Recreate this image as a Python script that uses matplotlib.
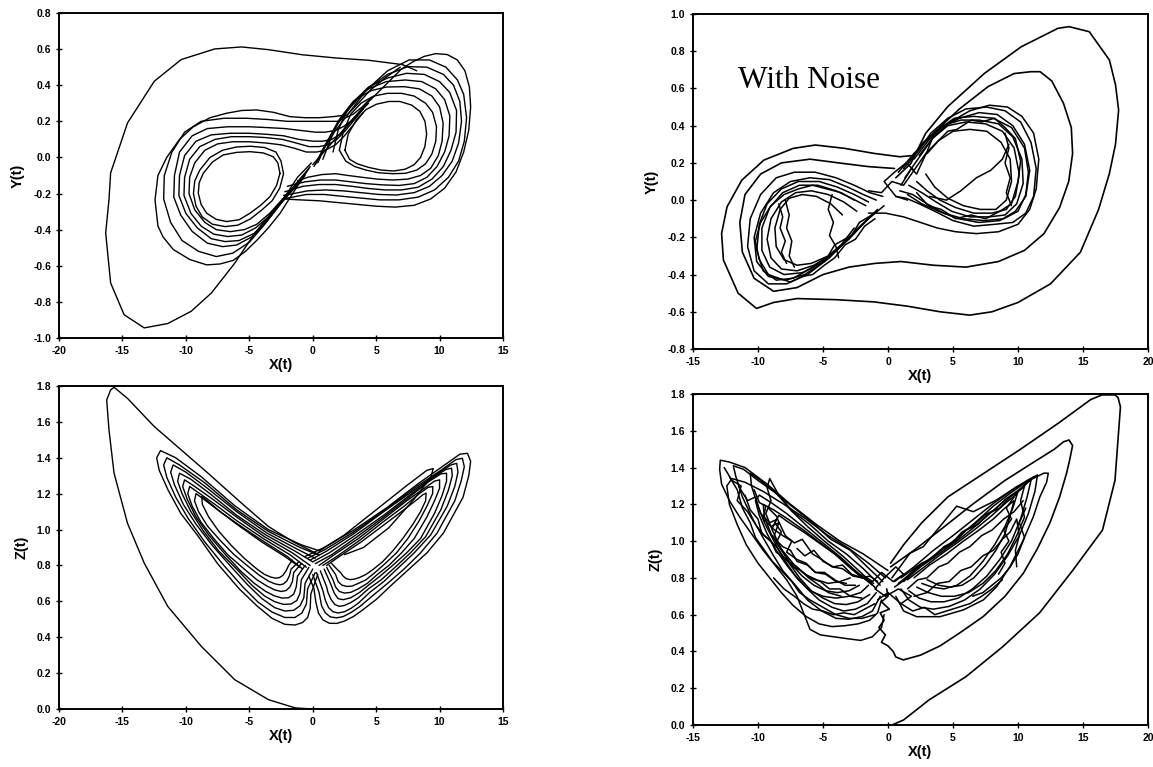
import matplotlib
matplotlib.use("Agg")
import matplotlib.pyplot as plt

# ---------------- top left: X(t) vs Y(t), clean run ----------------
tl_start_x = [-0.1, -1.2, -2.17, -4.55, -6.14, -7.99, -9.58, -11.43, -13.28, -14.87, -15.93, -16.32,
              -16.06, -15.93, -14.60, -12.49, -10.37, -7.72, -5.61, -3.49, -0.85, 1.80, 4.44, 7.09, 8.2]
tl_start_y = [-0.03, -0.11, -0.215, -0.418, -0.585, -0.751, -0.852, -0.920, -0.944, -0.871, -0.695, -0.418,
              -0.234, -0.086, 0.191, 0.422, 0.542, 0.601, 0.612, 0.597, 0.569, 0.551, 0.538, 0.514, 0.48]

tl_right_x = [
    [2.54, 2.8, 3.46, 4.2, 5.03, 6.0, 6.87, 7.8, 8.45, 8.85, 8.98, 8.84, 8.5, 8.0, 7.3, 6.4, 5.4, 4.4,
     3.5, 2.9, 2.54],
    [2.1, 2.4, 3.0, 3.8, 4.8, 5.9, 7.0, 8.0, 8.9, 9.45, 9.76, 9.7, 9.4, 8.9, 8.2, 7.3, 6.3, 5.2, 4.2,
     3.3, 2.6, 2.1],
    [1.6, 2.0, 2.7, 3.6, 4.6, 5.8, 7.2, 8.4, 9.4, 10.0, 10.28, 10.2, 9.9, 9.3, 8.5, 7.5, 6.3, 5.1, 3.9,
     2.8, 1.8, 0.7, -0.4, -1.2],
    [0.8, 1.4, 2.2, 3.2, 4.4, 5.8, 7.3, 8.6, 9.7, 10.4, 10.81, 10.75, 10.4, 9.8, 9.0, 8.0, 6.8, 5.5,
     4.2, 3.0, 1.8, 0.6, -0.6, -1.5, -2.0],
    [0.4, 1.1, 2.0, 3.1, 4.4, 5.9, 7.4, 8.8, 10.0, 10.8, 11.34, 11.3, 10.9, 10.3, 9.4, 8.3, 7.0, 5.7,
     4.4, 3.1, 1.8, 0.5, -0.8, -1.7, -2.2],
    [0.2, 0.9, 1.8, 3.0, 4.3, 5.9, 7.5, 9.0, 10.3, 11.1, 11.6, 11.73, 11.5, 11.0, 10.2, 9.2, 8.0, 6.6,
     5.2, 3.8, 2.4, 1.0, -0.4, -1.5, -2.3],
    [0.1, 0.8, 1.7, 2.9, 4.2, 5.9, 7.6, 9.2, 10.5, 11.4, 11.9, 12.13, 11.95, 11.5, 10.7, 9.6, 8.3, 6.8,
     5.3, 3.8, 2.3, 0.9, -0.5, -1.6, -2.4],
    [0.0, 1.0, 2.0, 3.0, 4.0, 5.0, 6.0, 7.0, 7.9, 8.8, 9.7, 10.6, 11.4, 12.0, 12.35, 12.45, 12.3, 11.9,
     11.3, 10.4, 9.3, 8.0, 6.5, 5.0, 3.5, 2.0, 0.5, -1.0, -2.3],
]
tl_right_y = [
    [0.04, 0.13, 0.21, 0.265, 0.295, 0.31, 0.31, 0.29, 0.255, 0.2, 0.13, 0.06, 0.0, -0.04, -0.065,
     -0.075, -0.07, -0.055, -0.035, -0.01, 0.04],
    [0.04, 0.14, 0.24, 0.3, 0.34, 0.355, 0.355, 0.34, 0.3, 0.25, 0.17, 0.09, 0.02, -0.035, -0.07,
     -0.088, -0.09, -0.085, -0.07, -0.05, -0.02, 0.04],
    [0.03, 0.15, 0.26, 0.33, 0.37, 0.39, 0.392, 0.38, 0.34, 0.28, 0.19, 0.09, 0.01, -0.06, -0.1, -0.12,
     -0.125, -0.12, -0.11, -0.1, -0.09, -0.095, -0.11, -0.13],
    [-0.01, 0.1, 0.22, 0.31, 0.38, 0.42, 0.429, 0.42, 0.38, 0.32, 0.23, 0.12, 0.03, -0.05, -0.11, -0.145,
     -0.155, -0.152, -0.145, -0.135, -0.125, -0.125, -0.135, -0.15, -0.16],
    [-0.03, 0.08, 0.2, 0.3, 0.39, 0.44, 0.466, 0.46, 0.42, 0.36, 0.26, 0.14, 0.04, -0.05, -0.12, -0.165,
     -0.18, -0.18, -0.172, -0.16, -0.15, -0.15, -0.16, -0.18, -0.19],
    [-0.04, 0.06, 0.17, 0.28, 0.38, 0.46, 0.503, 0.5, 0.46, 0.4, 0.31, 0.2, 0.08, -0.02, -0.1, -0.16,
     -0.195, -0.208, -0.205, -0.195, -0.185, -0.18, -0.185, -0.2, -0.21],
    [-0.05, 0.04, 0.14, 0.25, 0.37, 0.48, 0.54, 0.54, 0.5, 0.43, 0.35, 0.22, 0.09, -0.02, -0.11, -0.18,
     -0.22, -0.235, -0.235, -0.225, -0.215, -0.205, -0.205, -0.22, -0.23],
    [-0.04, 0.04, 0.12, 0.2, 0.28, 0.35, 0.42, 0.49, 0.53, 0.56, 0.575, 0.57, 0.54, 0.48, 0.39, 0.28,
     0.15, 0.03, -0.08, -0.17, -0.23, -0.265, -0.275, -0.27, -0.26, -0.25, -0.24, -0.235, -0.23],
]

tl_left_x = [
    [-2.58, -2.75, -3.11, -3.9, -4.95, -6.0, -7.05, -7.9, -8.63, -8.95, -9.02, -8.8, -8.36, -7.6, -6.78,
     -5.8, -4.95, -4.1, -3.37, -2.85, -2.58],
    [-2.3, -2.5, -2.9, -3.8, -4.9, -6.0, -7.1, -8.1, -8.9, -9.3, -9.4, -9.2, -8.7, -7.9, -6.9, -5.9,
     -4.9, -4.0, -3.2, -2.6, -2.3],
    [-1.0, -1.8, -2.5, -3.4, -4.4, -5.4, -6.5, -7.6, -8.5, -9.3, -9.75, -9.7, -9.3, -8.5, -7.5, -6.3,
     -5.0, -3.7, -2.5, -1.4, -0.5, 0.3, 1.0, 1.8, 2.5, 3.2, 4.0],
    [-0.8, -1.7, -2.6, -3.5, -4.5, -5.6, -6.7, -7.8, -8.8, -9.6, -10.15, -10.1, -9.7, -8.9, -7.7, -6.4,
     -5.0, -3.7, -2.4, -1.3, -0.3, 0.5, 1.2, 1.9, 2.6, 3.3, 4.0],
    [-0.6, -1.6, -2.7, -3.6, -4.6, -5.8, -6.9, -8.0, -9.1, -10.0, -10.55, -10.5, -10.1, -9.2, -8.0, -6.5,
     -5.0, -3.6, -2.3, -1.1, 0.0, 0.8, 1.5, 2.2, 2.8, 3.5, 4.2],
    [-0.5, -1.6, -2.8, -3.8, -4.8, -6.0, -7.1, -8.3, -9.5, -10.4, -10.95, -10.9, -10.5, -9.5, -8.3, -6.7,
     -5.0, -3.5, -2.2, -1.0, 0.2, 1.0, 1.8, 2.4, 3.0, 3.7, 4.4],
    [-0.3, -1.6, -2.9, -3.9, -5.0, -6.3, -7.6, -9.0, -10.3, -11.2, -11.75, -11.7, -11.1, -10.1, -8.8,
     -7.0, -5.2, -3.5, -2.0, -0.7, 0.5, 1.3, 2.0, 2.6, 3.2, 3.9, 4.6],
    [-0.2, -1.4, -2.58, -3.5, -4.42, -5.3, -6.26, -7.3, -8.36, -9.7, -10.99, -11.8, -12.2, -12.43,
     -12.2, -11.51, -10.5, -9.41, -8.1, -6.78, -5.6, -4.42, -3.1, -1.8, -0.6, 0.5, 1.6, 2.7, 3.6, 4.5,
     5.7, 6.9],
]
tl_left_y = [
    [-0.088, -0.03, 0.004, 0.025, 0.032, 0.028, 0.014, -0.025, -0.088, -0.14, -0.198, -0.26, -0.309,
     -0.343, -0.355, -0.345, -0.309, -0.265, -0.217, -0.155, -0.088],
    [-0.09, -0.02, 0.03, 0.055, 0.062, 0.058, 0.04, 0.0, -0.07, -0.13, -0.2, -0.27, -0.33, -0.37,
     -0.383, -0.375, -0.34, -0.29, -0.24, -0.17, -0.09],
    [-0.14, -0.19, -0.24, -0.31, -0.37, -0.40, -0.411, -0.4, -0.36, -0.29, -0.2, -0.11, -0.03, 0.04,
     0.075, 0.087, 0.087, 0.08, 0.07, 0.05, 0.03, 0.03, 0.04, 0.07, 0.12, 0.18, 0.25],
    [-0.12, -0.19, -0.26, -0.33, -0.39, -0.43, -0.438, -0.425, -0.38, -0.31, -0.21, -0.11, -0.01, 0.06,
     0.1, 0.115, 0.115, 0.11, 0.1, 0.08, 0.06, 0.06, 0.07, 0.1, 0.15, 0.21, 0.27],
    [-0.1, -0.18, -0.27, -0.35, -0.42, -0.46, -0.466, -0.45, -0.39, -0.31, -0.21, -0.1, 0.01, 0.09,
     0.125, 0.134, 0.134, 0.128, 0.12, 0.1, 0.09, 0.09, 0.1, 0.13, 0.18, 0.23, 0.29],
    [-0.08, -0.17, -0.28, -0.37, -0.44, -0.485, -0.494, -0.475, -0.41, -0.32, -0.22, -0.1, 0.03, 0.12,
     0.16, 0.17, 0.17, 0.165, 0.16, 0.15, 0.14, 0.14, 0.15, 0.17, 0.2, 0.25, 0.3],
    [-0.06, -0.17, -0.29, -0.38, -0.47, -0.53, -0.549, -0.52, -0.46, -0.36, -0.23, -0.1, 0.03, 0.14,
     0.2, 0.217, 0.217, 0.21, 0.2, 0.2, 0.2, 0.2, 0.2, 0.22, 0.24, 0.28, 0.33],
    [-0.05, -0.18, -0.31, -0.39, -0.46, -0.52, -0.57, -0.59, -0.595, -0.565, -0.51, -0.44, -0.38,
     -0.235, -0.1, 0.0, 0.1, 0.17, 0.22, 0.245, 0.26, 0.263, 0.25, 0.226, 0.22, 0.22, 0.226, 0.235,
     0.3, 0.37, 0.44, 0.5],
]

# ---------------- bottom left: X(t) vs Z(t), clean run ----------------
bl_start_x = [0.0, -1.38, -3.49, -6.14, -8.78, -11.43, -13.28, -14.60, -15.66, -16.06, -16.24, -15.93,
              -15.66, -14.60, -12.49, -10.37, -8.25, -5.61, -3.49, -1.5, 0.5]
bl_start_y = [0.0, 0.006, 0.052, 0.163, 0.349, 0.572, 0.813, 1.035, 1.314, 1.555, 1.722, 1.778,
              1.793, 1.731, 1.574, 1.444, 1.314, 1.147, 1.017, 0.93, 0.86]

bl_left_x = [
    [-1.0, -2.2, -4.0, -5.8, -7.3, -8.3, -8.75, -8.7, -8.2, -7.4, -6.4, -5.4, -4.4, -3.8, -3.3, -2.9,
     -2.6, -2.35, -2.1, -1.9, -1.6],
    [-0.8, -2.0, -4.0, -5.9, -7.5, -8.6, -9.2, -9.32, -9.0, -8.3, -7.3, -6.2, -5.0, -4.2, -3.5, -3.0,
     -2.6, -2.3, -2.05, -1.85, -1.7, -1.1],
    [-0.5, -1.8, -3.9, -6.0, -7.7, -8.9, -9.7, -9.85, -9.5, -8.8, -7.8, -6.7, -5.4, -4.4, -3.6, -3.0,
     -2.5, -2.1, -1.8, -1.6, -1.5, -0.9],
    [-0.2, -1.6, -3.8, -6.0, -7.9, -9.3, -10.1, -10.25, -9.9, -9.2, -8.2, -7.0, -5.7, -4.6, -3.7, -3.0,
     -2.4, -1.9, -1.5, -1.3, -1.2, -0.6],
    [0.0, -1.4, -3.7, -6.0, -8.1, -9.6, -10.5, -10.65, -10.3, -9.6, -8.6, -7.4, -6.0, -4.8, -3.8, -3.0,
     -2.3, -1.7, -1.25, -1.0, -0.9, -0.3],
    [0.2, -1.2, -3.6, -6.0, -8.3, -10.0, -11.0, -11.2, -10.9, -10.2, -9.2, -7.9, -6.4, -5.1, -4.0, -3.0,
     -2.2, -1.5, -1.0, -0.7, -0.6, 0.0],
    [0.4, -1.0, -3.5, -6.0, -8.5, -10.5, -11.5, -11.75, -11.5, -10.8, -9.8, -8.5, -7.0, -5.5, -4.3, -3.2,
     -2.2, -1.4, -0.85, -0.5, -0.4, 0.2],
    [0.6, -0.9, -3.5, -6.1, -8.8, -10.8, -12.0, -12.3, -12.1, -11.4, -10.4, -9.0, -7.5, -5.8, -4.4, -3.2,
     -2.2, -1.4, -0.8, -0.4, -0.2, -0.15, 0.4],
]
bl_left_y = [
    [0.79, 0.85, 0.93, 1.02, 1.10, 1.16, 1.184, 1.14, 1.07, 0.99, 0.91, 0.84, 0.78, 0.75, 0.735, 0.729,
     0.733, 0.745, 0.77, 0.80, 0.83],
    [0.78, 0.85, 0.94, 1.03, 1.11, 1.17, 1.20, 1.16, 1.10, 1.02, 0.94, 0.86, 0.79, 0.745, 0.713, 0.698,
     0.692, 0.697, 0.713, 0.74, 0.78, 0.82],
    [0.79, 0.86, 0.95, 1.05, 1.14, 1.20, 1.24, 1.20, 1.13, 1.04, 0.95, 0.86, 0.78, 0.72, 0.685, 0.664,
     0.655, 0.66, 0.68, 0.71, 0.76, 0.81],
    [0.80, 0.87, 0.96, 1.07, 1.17, 1.24, 1.277, 1.24, 1.17, 1.07, 0.97, 0.87, 0.77, 0.70, 0.655, 0.63,
     0.618, 0.62, 0.64, 0.68, 0.74, 0.80],
    [0.82, 0.88, 0.97, 1.08, 1.20, 1.28, 1.314, 1.27, 1.20, 1.10, 0.99, 0.88, 0.78, 0.69, 0.63, 0.598,
     0.583, 0.585, 0.605, 0.645, 0.72, 0.79],
    [0.84, 0.89, 0.98, 1.10, 1.23, 1.32, 1.36, 1.32, 1.25, 1.14, 1.03, 0.91, 0.79, 0.69, 0.615, 0.565,
     0.546, 0.55, 0.575, 0.62, 0.70, 0.78],
    [0.86, 0.9, 0.99, 1.11, 1.26, 1.36, 1.40, 1.36, 1.29, 1.18, 1.06, 0.93, 0.80, 0.68, 0.595, 0.54,
     0.51, 0.51, 0.535, 0.585, 0.67, 0.76],
    [0.88, 0.915, 1.0, 1.13, 1.295, 1.40, 1.44, 1.40, 1.33, 1.22, 1.09, 0.96, 0.81, 0.67, 0.575, 0.505,
     0.472, 0.468, 0.482, 0.51, 0.56, 0.64, 0.75],
]

bl_right_x = [
    [1.1, 2.1, 3.8, 5.5, 7.0, 8.1, 8.7, 8.94, 8.9, 8.5, 7.9, 7.1, 6.3, 5.5, 4.8, 4.2, 3.7, 3.3, 2.95,
     2.65, 2.4, 2.2, 1.9, 1.5],
    [0.8, 1.9, 3.7, 5.5, 7.2, 8.4, 9.1, 9.47, 9.45, 9.0, 8.4, 7.5, 6.6, 5.7, 4.9, 4.2, 3.6, 3.1, 2.7,
     2.3, 2.0, 1.8, 1.3],
    [0.5, 1.7, 3.6, 5.6, 7.4, 8.8, 9.6, 10.0, 10.0, 9.6, 9.0, 8.0, 7.0, 6.0, 5.1, 4.3, 3.6, 3.0, 2.5,
     2.1, 1.8, 1.6, 1.1],
    [0.2, 1.5, 3.5, 5.6, 7.6, 9.2, 10.1, 10.55, 10.55, 10.2, 9.6, 8.5, 7.4, 6.3, 5.3, 4.4, 3.7, 3.0,
     2.4, 2.0, 1.7, 1.4, 0.9],
    [0.0, 1.3, 3.4, 5.6, 7.8, 9.5, 10.5, 10.95, 11.0, 10.7, 10.1, 8.9, 7.7, 6.5, 5.4, 4.4, 3.6, 3.0,
     2.5, 2.1, 1.75, 1.45, 1.2, 1.1, 0.6],
    [-0.2, 1.1, 3.3, 5.6, 8.0, 9.8, 10.9, 11.35, 11.45, 11.2, 10.6, 9.3, 8.0, 6.8, 5.6, 4.5, 3.6, 3.0,
     2.5, 2.0, 1.6, 1.25, 1.0, 0.8, 0.3],
    [-0.4, 1.0, 3.3, 5.7, 8.2, 10.1, 11.3, 11.8, 11.95, 11.7, 11.2, 9.8, 8.5, 7.2, 5.9, 4.7, 3.7, 3.0,
     2.4, 1.9, 1.4, 1.0, 0.7, 0.5, 0.0],
    [-0.6, 0.9, 3.3, 5.8, 8.4, 10.4, 11.6, 12.2, 12.45, 12.3, 11.85, 10.3, 9.0, 7.6, 6.2, 5.0, 3.9, 3.2,
     2.5, 1.9, 1.3, 0.8, 0.45, 0.25, 0.1, -0.3],
    [0.5, 2.5, 5.0, 7.5, 9.0, 9.5, 9.3, 8.0, 6.0, 4.0, 2.5],
]
bl_right_y = [
    [0.80, 0.85, 0.93, 1.02, 1.10, 1.16, 1.195, 1.203, 1.16, 1.10, 1.03, 0.95, 0.88, 0.82, 0.78, 0.75,
     0.733, 0.724, 0.721, 0.726, 0.74, 0.76, 0.78, 0.81],
    [0.80, 0.85, 0.94, 1.04, 1.13, 1.20, 1.235, 1.24, 1.20, 1.13, 1.05, 0.95, 0.87, 0.81, 0.76, 0.72,
     0.70, 0.685, 0.683, 0.69, 0.71, 0.75, 0.80],
    [0.80, 0.86, 0.95, 1.06, 1.16, 1.23, 1.27, 1.277, 1.23, 1.16, 1.07, 0.95, 0.87, 0.80, 0.75, 0.70,
     0.67, 0.65, 0.646, 0.655, 0.68, 0.72, 0.79],
    [0.81, 0.86, 0.96, 1.07, 1.18, 1.27, 1.31, 1.314, 1.27, 1.19, 1.09, 0.95, 0.87, 0.80, 0.74, 0.69,
     0.65, 0.62, 0.609, 0.615, 0.645, 0.70, 0.78],
    [0.82, 0.87, 0.97, 1.08, 1.20, 1.29, 1.335, 1.342, 1.30, 1.22, 1.11, 0.96, 0.87, 0.79, 0.72, 0.67,
     0.62, 0.593, 0.577, 0.572, 0.582, 0.61, 0.65, 0.68, 0.77],
    [0.83, 0.88, 0.98, 1.10, 1.22, 1.31, 1.36, 1.369, 1.32, 1.24, 1.13, 0.97, 0.87, 0.79, 0.71, 0.65,
     0.59, 0.56, 0.542, 0.535, 0.542, 0.565, 0.605, 0.66, 0.76],
    [0.84, 0.89, 0.99, 1.11, 1.24, 1.33, 1.39, 1.397, 1.35, 1.27, 1.16, 0.98, 0.87, 0.78, 0.70, 0.63,
     0.57, 0.537, 0.515, 0.508, 0.513, 0.535, 0.575, 0.65, 0.75],
    [0.85, 0.90, 1.0, 1.12, 1.26, 1.36, 1.42, 1.425, 1.38, 1.30, 1.18, 0.98, 0.87, 0.78, 0.69, 0.61,
     0.55, 0.515, 0.49, 0.477, 0.478, 0.497, 0.535, 0.595, 0.67, 0.74],
    [0.88, 0.97, 1.11, 1.25, 1.33, 1.34, 1.29, 1.17, 1.01, 0.90, 0.86],
]

# ---------------- top right: X(t) vs Y(t), noisy run ----------------
tr_outer_x = [0.6, 1.76, 2.89, 4.59, 7.42, 10.25, 13.07, 13.92, 15.48, 17.03, 17.5, 17.74, 17.5, 17.03, 16.2,
              14.8, 12.5, 10.0, 8.0, 6.29, 4.0, 1.5, -1.07, -4.0, -7.0, -8.8, -10.12, -11.53, -12.66, -12.8,
              -12.38, -11.25, -9.55, -7.29, -5.59, -3.33, -1.07, 0.91, 2.0]
tr_outer_y = [0.12, 0.197, 0.358, 0.502, 0.681, 0.824, 0.923, 0.932, 0.905, 0.753, 0.62, 0.484, 0.30, 0.143,
              -0.05, -0.28, -0.45, -0.55, -0.60, -0.618, -0.60, -0.57, -0.547, -0.535, -0.529, -0.55, -0.582,
              -0.50, -0.322, -0.179, -0.036, 0.107, 0.215, 0.278, 0.296, 0.278, 0.251, 0.233, 0.24]

tr_second_x = [0.8, 2.0, 3.5, 5.5, 7.7, 9.7, 11.0, 11.7, 12.6, 13.5, 14.1, 14.2, 13.9, 13.2, 12.0, 10.5,
               8.5, 6.0, 3.5, 1.0, -1.0, -3.0, -5.0, -7.0, -8.8, -10.3, -11.2, -11.4, -11.0, -9.8, -8.2,
               -6.0, -3.8, -1.5, 0.5]
tr_second_y = [0.15, 0.25, 0.36, 0.49, 0.61, 0.68, 0.69, 0.69, 0.64, 0.52, 0.39, 0.25, 0.10, -0.04, -0.18,
               -0.27, -0.33, -0.36, -0.35, -0.33, -0.34, -0.36, -0.40, -0.47, -0.49, -0.42, -0.28, -0.12,
               0.03, 0.14, 0.20, 0.22, 0.20, 0.18, 0.17]

tr_right_x = [
    [1.2, 2.4, 3.3, 4.6, 6.0, 7.6, 9.0, 10.2, 11.0, 11.4, 11.2, 10.6, 9.6, 8.2, 6.6, 5.0, 3.6, 2.4, 1.4, 0.6],
    [1.6, 2.7, 3.9, 5.1, 6.6, 8.1, 9.5, 10.5, 10.8, 10.6, 10.0, 8.9, 7.4, 5.8, 4.3, 3.0, 1.9, 0.9],
    [2.0, 3.1, 4.2, 5.6, 7.0, 8.5, 9.6, 10.3, 10.4, 9.9, 9.0, 7.8, 6.3, 4.9, 3.7, 2.6, 1.6],
    [2.4, 3.4, 4.6, 6.0, 7.5, 8.8, 9.7, 10.1, 9.8, 9.1, 8.0, 6.6, 5.2, 4.0, 3.0, 2.2],
    [3.0, 3.9, 5.0, 6.3, 7.6, 8.7, 9.4, 9.5, 9.1, 8.3, 7.1, 5.8, 4.6, 3.6, 2.9],
    [1.3, 2.5, 3.5, 4.8, 6.3, 7.8, 9.2, 10.3, 11.2, 11.6, 11.4, 10.9, 10.0, 8.5, 6.8, 5.2, 3.8, 2.5,
     1.2, -0.2, -1.5],
    [3.2, 4.5, 5.6, 6.8, 7.9, 8.8, 9.3],
    [1.0, 1.8, 2.2, 3.0, 3.4, 4.4, 5.5, 7.0, 8.4, 9.6, 10.5, 10.9, 10.6, 9.8, 8.6, 7.0, 5.4, 3.9, 2.6, 1.5],
    [2.0, 2.9, 3.6, 4.6, 5.3, 6.4, 7.2, 8.2, 9.0, 9.8, 10.2, 10.0, 9.5, 8.6, 7.5, 6.4, 5.2, 4.1, 3.1, 2.2],
    [9.0, 9.3, 9.0, 9.4, 9.1, 9.5],
]
tr_right_y = [
    [0.17, 0.27, 0.36, 0.44, 0.49, 0.50, 0.48, 0.42, 0.31, 0.17, 0.02, -0.07, -0.12, -0.13, -0.14, -0.11,
     -0.06, -0.02, 0.01, 0.02],
    [0.20, 0.31, 0.38, 0.44, 0.45, 0.44, 0.39, 0.28, 0.15, 0.03, -0.06, -0.10, -0.11, -0.10, -0.07, -0.02, 0.03, 0.05],
    [0.22, 0.32, 0.40, 0.43, 0.43, 0.41, 0.34, 0.22, 0.09, -0.02, -0.08, -0.09, -0.09, -0.06, -0.01, 0.04, 0.08],
    [0.24, 0.33, 0.40, 0.42, 0.41, 0.37, 0.28, 0.14, 0.02, -0.05, -0.07, -0.07, -0.04, 0.00, 0.05, 0.10],
    [0.25, 0.32, 0.37, 0.38, 0.37, 0.31, 0.22, 0.10, 0.00, -0.05, -0.05, -0.03, 0.01, 0.07, 0.14],
    [0.12, 0.24, 0.34, 0.42, 0.48, 0.51, 0.50, 0.45, 0.36, 0.22, 0.06, -0.05, -0.13, -0.17, -0.18, -0.17,
     -0.15, -0.12, -0.09, -0.07, -0.07],
    [0.02, 0.0, 0.05, 0.12, 0.16, 0.22, 0.30],
    [0.08, 0.17, 0.14, 0.26, 0.33, 0.40, 0.44, 0.47, 0.46, 0.40, 0.30, 0.16, 0.02, -0.06, -0.11, -0.12,
     -0.10, -0.06, -0.02, 0.03],
    [0.16, 0.25, 0.30, 0.37, 0.38, 0.43, 0.42, 0.44, 0.39, 0.33, 0.21, 0.10, -0.02, -0.06, -0.10, -0.08,
     -0.10, -0.05, -0.03, 0.04],
    [0.36, 0.28, 0.20, 0.12, 0.04, -0.03],
]

tr_left_x = [
    [-0.3, -1.5, -3.0, -4.5, -6.2, -7.8, -9.2, -10.3, -10.8, -10.6, -9.8, -8.6, -7.2, -5.6, -4.0, -2.6, -1.4, -0.4],
    [-0.8, -2.0, -3.4, -4.9, -6.4, -7.9, -9.2, -10.1, -10.3, -9.8, -8.8, -7.5, -6.0, -4.5, -3.1, -1.9, -0.9],
    [-1.2, -2.4, -3.8, -5.2, -6.6, -8.0, -9.1, -9.7, -9.7, -9.1, -8.1, -6.8, -5.4, -4.0, -2.8, -1.7],
    [-1.8, -3.0, -4.3, -5.7, -7.0, -8.2, -9.0, -9.3, -9.0, -8.2, -7.1, -5.9, -4.6, -3.4, -2.4],
    [-2.6, -3.6, -4.6, -5.9, -7.0, -8.0, -8.6, -8.7, -8.3, -7.6, -6.6, -5.5, -4.4, -3.5],
    [-7.9, -7.6, -7.8, -7.4, -7.6, -7.2],
    [-1.0, -2.2, -2.8, -4.1, -4.6, -6.0, -7.3, -8.6, -9.6, -10.1, -9.9, -9.3, -8.2, -6.9, -5.3, -3.9, -2.6, -1.5],
    [-8.4, -8.1, -8.3, -7.9, -8.2, -7.8],
    [-4.3, -4.6, -4.2, -4.5, -4.0, -3.8],
    [-1.0, -1.8, -2.5, -3.3, -4.1, -4.9, -5.8, -6.6, -7.5, -8.4, -9.2, -9.9, -10.2, -9.8, -9.0, -8.0, -6.9,
     -5.8, -4.7, -3.6, -2.6],
    [-1.5, -0.5, 0.3, 1.2, 2.0, 1.4, 0.5, -0.3, 0.6, 1.5],
]
tr_left_y = [
    [-0.03, -0.10, -0.20, -0.31, -0.40, -0.45, -0.45, -0.38, -0.25, -0.10, 0.03, 0.12, 0.15, 0.15, 0.12, 0.08, 0.04, 0.02],
    [-0.05, -0.13, -0.23, -0.33, -0.40, -0.43, -0.41, -0.33, -0.20, -0.07, 0.04, 0.10, 0.12, 0.11, 0.07, 0.03, 0.0],
    [-0.08, -0.16, -0.26, -0.34, -0.39, -0.40, -0.36, -0.27, -0.15, -0.04, 0.04, 0.08, 0.08, 0.05, 0.01, -0.03],
    [-0.12, -0.21, -0.29, -0.35, -0.38, -0.37, -0.31, -0.21, -0.10, -0.01, 0.04, 0.05, 0.03, -0.01, -0.06],
    [-0.15, -0.24, -0.30, -0.34, -0.35, -0.32, -0.25, -0.15, -0.05, 0.01, 0.03, 0.02, -0.02, -0.08],
    [0.0, -0.08, -0.15, -0.22, -0.30, -0.36],
    [-0.07, -0.12, -0.19, -0.24, -0.30, -0.37, -0.42, -0.43, -0.38, -0.27, -0.13, -0.02, 0.06, 0.10, 0.10,
     0.07, 0.03, -0.01],
    [-0.02, -0.09, -0.15, -0.22, -0.28, -0.34],
    [0.03, -0.05, -0.12, -0.19, -0.25, -0.31],
    [-0.10, -0.14, -0.21, -0.24, -0.31, -0.35, -0.40, -0.41, -0.44, -0.42, -0.40, -0.32, -0.22, -0.12, -0.03,
     0.03, 0.06, 0.08, 0.06, 0.04, 0.0],
    [0.05, 0.04, 0.10, 0.08, 0.16, 0.20, 0.15, 0.10, 0.02, 0.0],
]

# ---------------- bottom right: X(t) vs Z(t), noisy run ----------------
br_start_x = [0.3, 1.19, 3.15, 6.0, 8.83, 11.66, 14.2, 16.5, 17.46, 17.88, 17.7, 17.46, 16.46, 15.6,
              13.08, 10.2, 7.4, 4.6, 2.6, 1.2, 0.2]
br_start_y = [0.0, 0.027, 0.136, 0.263, 0.426, 0.61, 0.84, 1.06, 1.33, 1.73, 1.78, 1.795, 1.795, 1.77,
              1.64, 1.50, 1.37, 1.24, 1.10, 0.98, 0.88]

br_second_x = [0.2, 2.0, 4.0, 6.5, 9.0, 11.0, 12.8, 13.5, 13.92, 14.2, 14.0, 13.74, 13.2, 12.46, 11.5,
               10.41, 9.0, 7.33, 5.5, 4.0, 2.5, 1.18, 0.6, 0.4, 0.0, -0.5, -0.2, -0.7, -0.3, -0.6, 0.1,
               -0.5, 0.0, -0.1]
br_second_y = [0.86, 0.95, 1.06, 1.20, 1.33, 1.42, 1.50, 1.54, 1.55, 1.52, 1.45, 1.37, 1.24, 1.10, 0.96,
               0.825, 0.70, 0.59, 0.50, 0.43, 0.38, 0.354, 0.37, 0.40, 0.43, 0.45, 0.49, 0.53, 0.57, 0.61,
               0.63, 0.67, 0.70, 0.74]

br_left_x = [
    [0.0, -1.9, -3.7, -5.5, -7.5, -9.3, -11.0, -12.2, -12.9, -12.95, -12.8, -12.2, -11.4, -10.5, -9.6,
     -8.7, -7.8, -7.0, -6.5, -6.0, -5.2, -4.2, -3.2, -2.1, -1.2, -0.5, -0.3],
    [-0.2, -1.5, -3.0, -4.6, -6.3, -8.0, -9.6, -11.0, -12.0, -12.4, -12.2, -11.6, -10.9, -10.0, -9.1,
     -8.2, -7.3, -6.3, -5.3, -4.3, -3.3, -2.3, -1.4, -0.8, -0.5],
    [-0.4, -1.6, -2.9, -4.4, -5.8, -7.4, -8.8, -10.0, -11.1, -11.9, -11.7, -11.2, -10.4, -9.7, -8.8,
     -8.1, -7.0, -6.2, -5.1, -4.0, -3.0, -2.0, -1.2, -0.6],
    [-0.6, -1.9, -3.2, -4.6, -6.0, -7.3, -8.6, -9.8, -10.6, -10.5, -10.0, -9.5, -8.7, -8.0, -7.1, -6.2,
     -5.3, -4.3, -3.4, -2.5, -1.6, -0.9],
    [-0.9, -2.1, -3.5, -4.9, -6.2, -7.5, -8.4, -9.1, -9.3, -9.0, -9.4, -8.9, -8.3, -7.6, -6.8, -5.9,
     -5.0, -4.1, -3.2, -2.3, -1.4],
    [-1.2, -2.4, -3.6, -5.0, -6.4, -7.8, -9.0, -9.9, -10.2, -9.9, -9.3, -8.6, -7.8, -6.9, -6.0, -5.0,
     -4.0, -3.0, -2.1, -1.5],
    [-1.5, -2.7, -3.9, -5.2, -6.5, -7.7, -8.8, -9.6, -9.5, -9.0, -8.3, -7.5, -6.6, -5.7, -4.8, -3.9,
     -3.0, -2.2],
    [-2.0, -3.0, -4.1, -5.3, -6.5, -7.6, -8.4, -8.7, -8.2, -8.6, -7.9, -7.2, -6.4, -5.5, -4.6, -3.7, -2.9],
    [-11.5, -10.8, -10.2, -9.8, -9.1, -8.5, -7.9, -7.2, -6.6, -5.8, -5.1, -4.3, -3.5, -2.7, -1.9, -1.1],
    [-11.0, -10.6, -10.0, -9.7, -9.0, -8.6, -8.0, -7.3, -6.7, -6.0, -5.2, -4.5, -3.7, -2.9, -2.0],
    [-10.3, -9.9, -9.4, -9.6, -9.0, -8.4, -8.8, -8.1, -7.5, -7.0, -6.2, -5.6, -4.8, -4.0, -3.2],
    [-12.2, -11.6, -11.2, -10.6, -10.2, -9.5, -8.9, -8.2, -7.4, -6.8, -6.0, -5.0, -4.0, -3.0, -2.0, -1.0],
    [-8.8, -8.0, -7.2, -6.5, -5.8, -5.0, -4.2, -3.4, -2.6, -1.8, -1.0],
    [-7.0, -6.4, -5.7, -5.0, -4.2, -3.5, -2.8, -2.0, -1.4, -0.8],
    [-12.6, -12.0, -11.3, -11.6, -10.8, -10.1, -9.5, -8.6, -7.9, -7.0, -6.1, -5.3, -4.6, -3.6],
    [-9.2, -8.5, -8.9, -8.1, -7.4, -7.8, -7.0, -6.3, -5.6, -4.9, -4.1, -3.3, -2.5],
]
br_left_y = [
    [0.84, 0.93, 1.0, 1.09, 1.20, 1.31, 1.40, 1.43, 1.44, 1.39, 1.31, 1.22, 1.13, 1.04, 0.95, 0.87, 0.79,
     0.70, 0.61, 0.52, 0.49, 0.48, 0.47, 0.46, 0.48, 0.53, 0.60],
    [0.80, 0.88, 0.96, 1.03, 1.12, 1.20, 1.27, 1.32, 1.34, 1.30, 1.20, 1.09, 0.98, 0.88, 0.80, 0.72, 0.65,
     0.59, 0.55, 0.535, 0.54, 0.55, 0.57, 0.61, 0.68],
    [0.78, 0.86, 0.95, 1.01, 1.10, 1.19, 1.27, 1.33, 1.39, 1.41, 1.35, 1.24, 1.12, 1.03, 0.92, 0.84, 0.75,
     0.68, 0.62, 0.58, 0.575, 0.59, 0.62, 0.70],
    [0.76, 0.85, 0.93, 1.00, 1.09, 1.16, 1.26, 1.33, 1.37, 1.30, 1.19, 1.10, 0.99, 0.90, 0.81, 0.74, 0.68,
     0.64, 0.62, 0.63, 0.66, 0.72],
    [0.74, 0.83, 0.92, 1.00, 1.08, 1.17, 1.25, 1.34, 1.29, 1.22, 1.15, 1.06, 0.97, 0.88, 0.80, 0.73, 0.69,
     0.66, 0.655, 0.67, 0.71],
    [0.76, 0.83, 0.91, 0.99, 1.07, 1.15, 1.21, 1.25, 1.22, 1.14, 1.04, 0.95, 0.87, 0.79, 0.73, 0.70, 0.69,
     0.70, 0.72, 0.76],
    [0.78, 0.85, 0.92, 0.99, 1.06, 1.12, 1.17, 1.20, 1.13, 1.04, 0.96, 0.88, 0.81, 0.76, 0.73, 0.72, 0.73, 0.76],
    [0.80, 0.86, 0.93, 0.99, 1.05, 1.10, 1.14, 1.10, 1.05, 0.99, 0.93, 0.87, 0.82, 0.79, 0.77, 0.78, 0.80],
    [1.30, 1.22, 1.24, 1.15, 1.10, 1.12, 1.03, 0.99, 1.01, 0.93, 0.90, 0.86, 0.85, 0.81, 0.80, 0.77],
    [1.25, 1.17, 1.12, 1.04, 1.00, 0.94, 0.91, 0.86, 0.84, 0.80, 0.78, 0.74, 0.74, 0.70, 0.69],
    [1.28, 1.21, 1.19, 1.12, 1.08, 1.10, 1.02, 0.97, 0.95, 0.89, 0.87, 0.83, 0.82, 0.78, 0.77],
    [1.35, 1.28, 1.18, 1.10, 1.02, 0.95, 0.89, 0.84, 0.78, 0.72, 0.68, 0.64, 0.60, 0.58, 0.58, 0.60],
    [0.80, 0.74, 0.70, 0.66, 0.63, 0.62, 0.60, 0.61, 0.60, 0.63, 0.66],
    [0.96, 0.92, 0.95, 0.89, 0.86, 0.87, 0.82, 0.80, 0.81, 0.78],
    [1.40, 1.33, 1.30, 1.22, 1.16, 1.08, 1.03, 0.97, 0.90, 0.86, 0.80, 0.76, 0.72, 0.70],
    [1.18, 1.13, 1.07, 1.03, 1.00, 0.94, 0.90, 0.88, 0.83, 0.83, 0.79, 0.76, 0.76],
]

br_right_x = [
    [0.3, 1.69, 2.72, 4.0, 5.28, 6.56, 8.36, 9.9, 11.44, 12.0, 12.33, 12.2, 11.69, 11.18, 10.41, 9.38,
     8.36, 7.33, 5.8, 4.0, 2.2, 1.2, 0.6],
    [0.5, 2.0, 3.5, 5.0, 6.6, 8.2, 9.6, 10.7, 11.5, 11.3, 10.8, 10.1, 9.2, 8.2, 7.1, 5.9, 4.7, 3.5, 2.5, 1.6, 1.0],
    [0.8, 2.2, 3.7, 5.2, 6.7, 8.1, 9.4, 10.4, 11.0, 10.7, 10.2, 9.5, 8.6, 7.6, 6.5, 5.4, 4.3, 3.3, 2.4, 1.6],
    [1.2, 2.5, 3.9, 5.3, 6.7, 8.0, 9.1, 10.0, 10.5, 10.2, 10.5, 9.9, 9.2, 8.3, 7.3, 6.2, 5.1, 4.1, 3.1, 2.2],
    [1.5, 2.8, 4.1, 5.5, 6.8, 8.0, 9.1, 9.8, 10.0, 9.6, 9.0, 8.2, 7.3, 6.3, 5.3, 4.3, 3.4, 2.6],
    [2.0, 3.2, 4.5, 5.8, 7.0, 8.1, 9.0, 9.7, 9.4, 9.0, 8.3, 7.5, 6.6, 5.7, 4.8, 3.9, 3.0],
    [1.0, 1.8, 2.6, 3.5, 4.3, 5.2, 6.0, 6.9, 7.7, 8.6, 9.4, 10.2, 10.9],
    [1.5, 2.3, 3.0, 3.9, 4.6, 5.5, 6.3, 7.2, 8.0, 8.9, 9.7, 10.4],
    [2.0, 3.0, 3.8, 4.7, 5.6, 6.4, 7.3, 8.1, 8.8, 9.4, 9.9, 10.1, 9.8, 9.9],
    [1.0, 1.9, 2.8, 3.6, 4.5, 5.4, 6.3, 7.2, 8.0, 8.8],
    [8.5, 9.0, 8.7, 9.3, 8.9, 9.5, 9.1, 9.7],
    [-2.0, -1.2, -0.5, 0.4, 1.2, 0.6, -0.3, -1.0, -0.2, 0.8, 1.8, 1.0, 0.0, -0.8],
    [0.5, 1.3, 2.2, 3.1, 4.0, 4.8, 5.7, 6.5, 7.4, 8.2, 9.1, 9.9, 10.6, 11.2],
    [6.5, 7.3, 8.0, 8.7, 9.4, 10.0, 10.5, 10.1, 10.6],
]
br_right_y = [
    [0.80, 0.934, 0.97, 1.08, 1.19, 1.16, 1.224, 1.296, 1.35, 1.37, 1.369, 1.32, 1.242, 1.133, 1.006, 0.861,
     0.752, 0.68, 0.626, 0.589, 0.589, 0.62, 0.70],
    [0.78, 0.86, 0.95, 1.03, 1.12, 1.21, 1.28, 1.33, 1.36, 1.27, 1.15, 1.03, 0.92, 0.82, 0.74, 0.68, 0.645,
     0.63, 0.64, 0.68, 0.74],
    [0.77, 0.85, 0.93, 1.01, 1.10, 1.19, 1.26, 1.31, 1.33, 1.24, 1.12, 1.00, 0.90, 0.81, 0.74, 0.69, 0.67,
     0.67, 0.69, 0.73],
    [0.78, 0.86, 0.93, 1.00, 1.08, 1.16, 1.23, 1.27, 1.30, 1.22, 1.13, 1.03, 0.93, 0.84, 0.77, 0.72, 0.70,
     0.70, 0.72, 0.75],
    [0.79, 0.86, 0.93, 1.00, 1.07, 1.14, 1.21, 1.25, 1.27, 1.18, 1.08, 0.98, 0.89, 0.81, 0.76, 0.74, 0.75, 0.77],
    [0.80, 0.87, 0.93, 1.00, 1.06, 1.12, 1.18, 1.22, 1.14, 1.04, 0.95, 0.87, 0.80, 0.76, 0.75, 0.76, 0.79],
    [0.80, 0.84, 0.88, 0.91, 0.97, 1.00, 1.06, 1.09, 1.15, 1.18, 1.24, 1.28, 1.33],
    [0.74, 0.79, 0.80, 0.86, 0.88, 0.94, 0.97, 1.03, 1.06, 1.12, 1.16, 1.22],
    [0.70, 0.72, 0.77, 0.78, 0.84, 0.86, 0.92, 0.95, 1.01, 1.05, 1.12, 1.03, 0.95, 0.86],
    [0.66, 0.62, 0.64, 0.60, 0.62, 0.64, 0.66, 0.70, 0.74, 0.79],
    [0.82, 0.88, 0.94, 1.00, 1.06, 1.12, 1.18, 1.24],
    [0.82, 0.78, 0.83, 0.78, 0.82, 0.86, 0.80, 0.74, 0.70, 0.74, 0.70, 0.66, 0.72, 0.68],
    [0.75, 0.79, 0.86, 0.89, 0.95, 0.98, 1.05, 1.08, 1.14, 1.17, 1.23, 1.27, 1.31, 1.35],
    [0.70, 0.72, 0.76, 0.80, 0.86, 0.93, 1.02, 1.10, 1.18],
]

tl_xticks = [-20, -15, -10, -5, 0, 5, 10, 15]
tr_xticks = [-15, -10, -5, 0, 5, 10, 15, 20]
tl_yticks = [-1.0, -0.8, -0.6, -0.4, -0.2, 0.0, 0.2, 0.4, 0.6, 0.8]
tr_yticks = [-0.8, -0.6, -0.4, -0.2, 0.0, 0.2, 0.4, 0.6, 0.8, 1.0]
z_yticks = [0.0, 0.2, 0.4, 0.6, 0.8, 1.0, 1.2, 1.4, 1.6, 1.8]

W, H = 1153, 767
fig = plt.figure(figsize=(W / 100, H / 100), dpi=100)


def box(l, t, r, b):
    return [l / W, 1 - b / H, (r - l) / W, (b - t) / H]


def style(ax, xticks, yticks, ylabel):
    ax.set_xlim(xticks[0], xticks[-1])
    ax.set_ylim(yticks[0], yticks[-1])
    ax.set_xticks(xticks)
    ax.set_xticklabels([str(v) for v in xticks])
    ax.set_yticks(yticks)
    ax.set_yticklabels([f"{v:.1f}" for v in yticks])
    ax.tick_params(direction="inout", length=5, width=1, labelsize=7.5, pad=3)
    for lab in ax.get_xticklabels() + ax.get_yticklabels():
        lab.set_fontweight("bold")
        lab.set_family("Liberation Sans")
    for sp in ax.spines.values():
        sp.set_linewidth(1.4)
    ax.set_xlabel("X(t)", fontsize=10.5, fontweight="bold", family="Liberation Sans", labelpad=2)
    ax.set_ylabel(ylabel, fontsize=10.5, fontweight="bold", family="Liberation Sans", labelpad=6)


def draw(ax, xs, ys, lw):
    for x, y in zip(xs, ys):
        ax.plot(x, y, color="black", lw=lw, solid_joinstyle="round", solid_capstyle="round")


ax_tl = fig.add_axes(box(59, 13, 503, 338))
draw(ax_tl, [tl_start_x], [tl_start_y], 1.0)
draw(ax_tl, tl_right_x, tl_right_y, 1.0)
draw(ax_tl, tl_left_x, tl_left_y, 1.0)
style(ax_tl, tl_xticks, tl_yticks, "Y(t)")

ax_bl = fig.add_axes(box(59, 386, 503, 709))
draw(ax_bl, [bl_start_x], [bl_start_y], 1.0)
draw(ax_bl, bl_left_x, bl_left_y, 1.0)
draw(ax_bl, bl_right_x, bl_right_y, 1.0)
style(ax_bl, tl_xticks, z_yticks, "Z(t)")

ax_tr = fig.add_axes(box(693, 14, 1148, 349))
draw(ax_tr, [tr_outer_x, tr_second_x], [tr_outer_y, tr_second_y], 1.2)
draw(ax_tr, tr_right_x, tr_right_y, 1.1)
draw(ax_tr, tr_left_x, tr_left_y, 1.1)
style(ax_tr, tr_xticks, tr_yticks, "Y(t)")
ax_tr.text(0.10, 0.80, "With Noise", transform=ax_tr.transAxes, family="Liberation Serif",
           fontsize=22.5, va="center", ha="left")

ax_br = fig.add_axes(box(693, 394, 1148, 725))
draw(ax_br, [br_start_x, br_second_x], [br_start_y, br_second_y], 1.2)
draw(ax_br, br_left_x, br_left_y, 1.1)
draw(ax_br, br_right_x, br_right_y, 1.1)
style(ax_br, tr_xticks, z_yticks, "Z(t)")

fig.savefig("out.png", dpi=100)
